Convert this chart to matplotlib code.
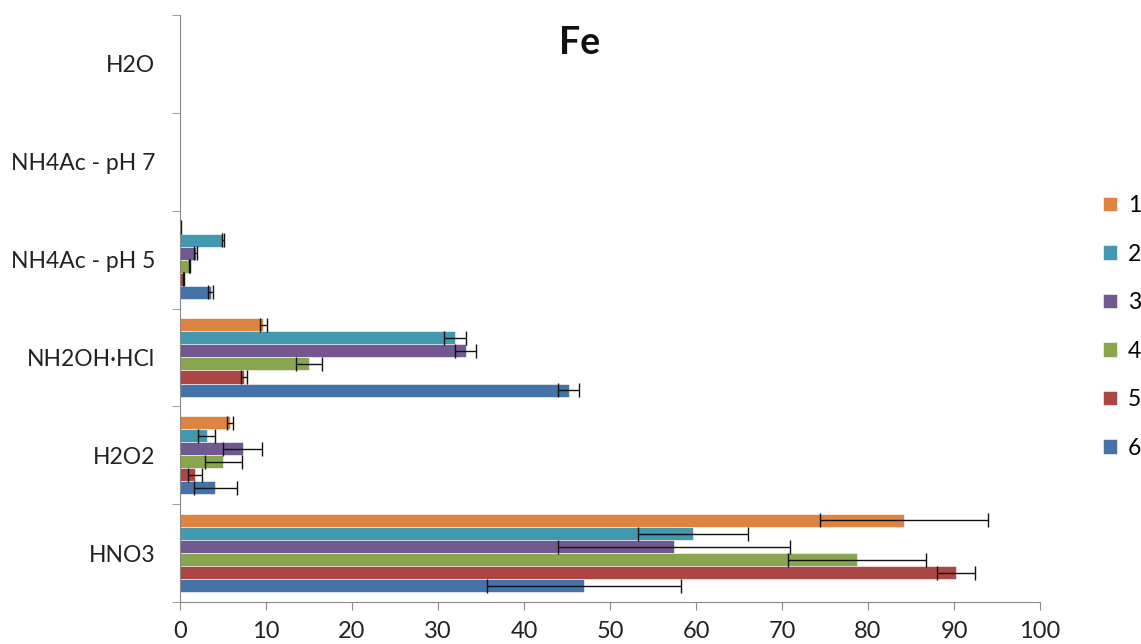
import matplotlib
matplotlib.use('Agg')
import matplotlib.pyplot as plt
import numpy as np

nan = np.nan

categories = ['HNO3', 'H2O2', 'NH2OH·HCl', 'NH4Ac - pH 5', 'NH4Ac - pH 7', 'H2O']
series_names = ['1', '2', '3', '4', '5', '6']

s1 = [84.2, 5.8, 9.7, 0.1, nan, nan]
s2 = [59.7, 3.1, 32.0, 5.0, nan, nan]
s3 = [57.4, 7.3, 33.2, 1.8, nan, nan]
s4 = [78.7, 5.0, 15.0, 1.1, nan, nan]
s5 = [90.2, 1.75, 7.4, 0.4, nan, nan]
s6 = [47.0, 4.1, 45.2, 3.55, nan, nan]

e1 = [9.8, 0.3, 0.4, 0.05, nan, nan]
e2 = [6.4, 1.0, 1.3, 0.15, nan, nan]
e3 = [13.5, 2.25, 1.2, 0.2, nan, nan]
e4 = [8.0, 2.15, 1.5, 0.1, nan, nan]
e5 = [2.2, 0.8, 0.35, 0.05, nan, nan]
e6 = [11.3, 2.5, 1.2, 0.25, nan, nan]

colors = ['#DD8440', '#4198AF', '#71588F', '#89A54E', '#AA4643', '#4572A7']

plt.rcParams['font.family'] = ['Lato', 'DejaVu Sans']

fig = plt.figure(figsize=(11.41, 6.44), dpi=100)
ax = fig.add_axes([0.1578, 0.0652, 0.7537, 0.9115])

values = [s1, s2, s3, s4, s5, s6]
errors = [e1, e2, e3, e4, e5, e6]
ind = np.arange(len(categories))
h = 0.8 / 6

handles = []
for k in range(6):
    y = ind + (2.5 - k) * h
    b = ax.barh(y, values[k], h, color=colors[k], edgecolor='white', linewidth=0.4)
    ax.errorbar(values[k], y, xerr=errors[k], fmt='none', ecolor='#111111',
                elinewidth=1.0, capsize=4.7, capthick=1.0)
    handles.append(b)

ax.set_xlim(0, 100)
ax.set_ylim(-0.5, len(categories) - 0.5)
ax.set_xticks(np.arange(0, 101, 10))
ax.set_yticks(ind)
ax.set_yticklabels(categories)
ax.set_yticks(np.arange(-0.5, len(categories), 1), minor=True)

for side in ['top', 'right']:
    ax.spines[side].set_visible(False)
for side in ['left', 'bottom']:
    ax.spines[side].set_color('#888888')

ax.tick_params(axis='y', which='major', length=0, pad=18, labelsize=16.5, labelcolor='#222222')
ax.tick_params(axis='y', which='minor', length=6, color='#888888', direction='out')
ax.tick_params(axis='x', length=6, color='#888888', direction='out', pad=8,
               labelsize=17, labelcolor='#222222')

ax.set_title('Fe', fontsize=27, fontweight='bold', x=0.464, y=0.92, color='#111111')

leg = fig.legend(handles, series_names, loc='upper left', bbox_to_anchor=(0.9667, 0.697),
                 frameon=False, fontsize=16.5, handlelength=0.6, handleheight=0.6,
                 handletextpad=0.5, labelspacing=1.2, borderpad=0, borderaxespad=0)

fig.savefig('out.png', dpi=100)
